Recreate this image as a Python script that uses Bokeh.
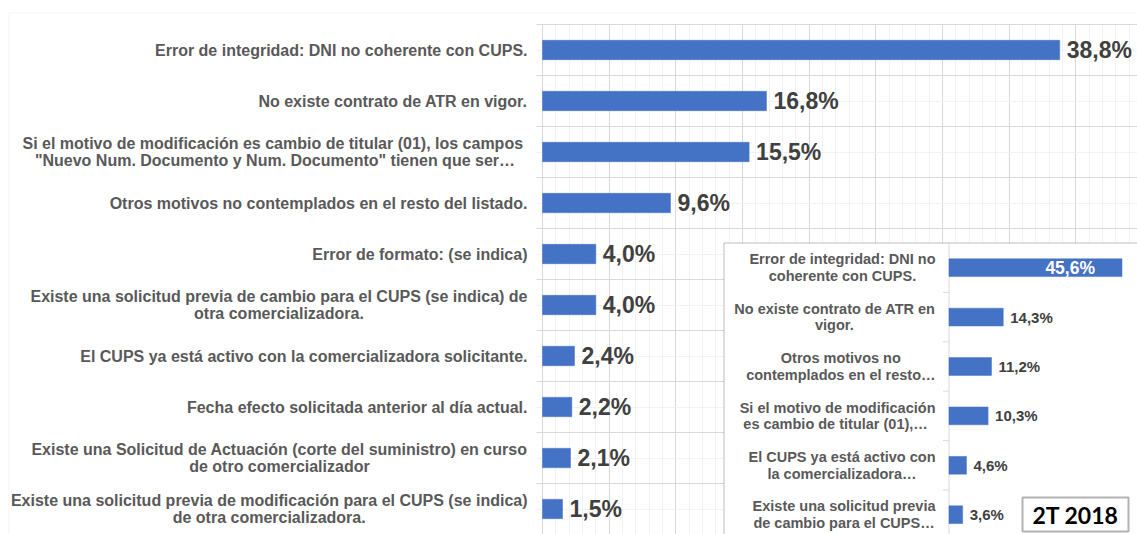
from bokeh.plotting import figure
from bokeh.models import (Range1d, ColumnDataSource, LabelSet, Label, BoxAnnotation,
                          FixedTicker, SingleIntervalTicker)
from bokeh.embed import file_html
from bokeh.resources import INLINE
from bokeh.core.properties import value
import math

# ---------------- data ----------------
categories = [
    "Error de integridad: DNI no coherente con CUPS.",
    "No existe contrato de ATR en vigor.",
    "Si el motivo de modificación es  cambio de titular (01), los campos\n\"Nuevo Num. Documento y Num. Documento\" tienen que ser…",
    "Otros motivos no contemplados en el resto del listado.",
    "Error de formato: (se indica)",
    "Existe una solicitud previa de cambio para el CUPS (se indica) de\notra comercializadora.",
    "El CUPS ya está activo con la comercializadora solicitante.",
    "Fecha efecto solicitada anterior al día actual.",
    "Existe una Solicitud de Actuación (corte del suministro) en curso\nde otro comercializador",
    "Existe una solicitud previa de modificación para el CUPS (se indica)\nde otra comercializadora.",
]
values = [38.8, 16.8, 15.5, 9.6, 4.0, 4.0, 2.4, 2.2, 2.1, 1.5]

inset_categories = [
    "Error de integridad: DNI no\ncoherente con CUPS.",
    "No existe contrato de ATR en\nvigor.",
    "Otros motivos no\ncontemplados en el resto…",
    "Si el motivo de modificación\nes  cambio de titular (01),…",
    "El CUPS ya está activo con\nla comercializadora…",
    "Existe una solicitud previa\nde cambio para el CUPS…",
]
inset_values = [45.6, 14.3, 11.2, 10.3, 4.6, 3.6]
inset_title = "2T 2018"

# ---------------- style ----------------
BLUE = "#4472C4"
CAT_COLOR = "#595959"
VAL_COLOR = "#404040"
GRID_MAJOR = "#d9d9d9"
GRID_MINOR = "#f2f2f2"
FONT = "Liberation Sans"

W, H = 1137, 534                     # frame covers the whole canvas
N = len(categories)

# main chart geometry (pixels)
M_AXIS = 542.0
M_TOP = 24.0
PX_PER_PCT = 13.33
M_BAND = 51.0

def mx(px):
    return (px - M_AXIS) / PX_PER_PCT

def my(py):
    return (py - M_TOP) / M_BAND

# inset geometry (pixels)
I_AXIS = 948.5
I_PX = 3.794
I_TOP = 242.5
I_BAND = 49.4

def ix(px):
    return (px - I_AXIS) / I_PX

def iy(py):
    return (py - I_TOP) / I_BAND

# Arial/Liberation Sans Bold advance widths (1/1000 em)
_WB = {' ': 278, '!': 333, '"': 474, '%': 889, '(': 333, ')': 333, ',': 278, '-': 333,
       '.': 278, ':': 333, '…': 1000,
       'A': 722, 'B': 722, 'C': 722, 'D': 722, 'E': 667, 'F': 611, 'G': 778, 'H': 722,
       'I': 278, 'J': 556, 'K': 722, 'L': 611, 'M': 833, 'N': 722, 'O': 778, 'P': 667,
       'Q': 778, 'R': 722, 'S': 667, 'T': 611, 'U': 722, 'V': 667, 'W': 944, 'X': 667,
       'Y': 667, 'Z': 611,
       'a': 556, 'b': 611, 'c': 556, 'd': 611, 'e': 556, 'f': 333, 'g': 611, 'h': 611,
       'i': 278, 'j': 278, 'k': 556, 'l': 278, 'm': 889, 'n': 611, 'o': 611, 'p': 611,
       'q': 611, 'r': 389, 's': 556, 't': 333, 'u': 611, 'v': 556, 'w': 778, 'x': 556,
       'y': 556, 'z': 500, 'á': 556, 'é': 556, 'í': 278, 'ó': 611, 'ú': 611}
for _d in "0123456789":
    _WB[_d] = 556

def text_w(s, size):
    return sum(_WB.get(c, 600) for c in s) / 1000.0 * size

def fmt(v):
    return f"{v:.1f}%".replace(".", ",")

def label_rows(cats, centers, size, gap, line_off):
    right = dict(x=[], y=[], xo=[], yo=[], t=[])
    center = dict(x=[], y=[], xo=[], yo=[], t=[])
    for cat, yc in zip(cats, centers):
        lines = cat.split("\n")
        widths = [text_w(l, size) for l in lines]
        maxw = max(widths)
        n = len(lines)
        for j, (l, w) in enumerate(zip(lines, widths)):
            yo = line_off * ((n - 1) / 2.0 - j)
            tgt = right if (w == maxw) else center
            tgt["x"].append(0)
            tgt["y"].append(yc)
            tgt["yo"].append(yo)
            tgt["t"].append(l)
            tgt["xo"].append(-gap if w == maxw else -gap - maxw / 2.0)
    return right, center

# ---------------- figure ----------------
p = figure(width=W, height=H, title=None,
           x_range=Range1d(mx(0), mx(W)),
           y_range=Range1d(my(H), my(0)),
           output_backend="svg", toolbar_location=None,
           min_border=0, min_border_left=0, min_border_top=0,
           min_border_right=0, min_border_bottom=0)
p.outline_line_color = None
p.background_fill_color = "white"
p.border_fill_color = "white"
p.xaxis.visible = False
p.yaxis.visible = False

xt = SingleIntervalTicker(interval=5, num_minor_ticks=5)
p.xgrid.ticker = xt
p.xgrid.bounds = (0, mx(W) + 5)
p.xgrid.cross_bounds = (0, N)
p.xgrid.grid_line_color = GRID_MAJOR
p.xgrid.minor_grid_line_color = GRID_MINOR

yt = FixedTicker(ticks=list(range(N + 1)), minor_ticks=[i + 0.5 for i in range(N)])
p.ygrid.ticker = yt
p.ygrid.bounds = (0, N)
p.ygrid.cross_bounds = (mx(M_AXIS - 6), mx(W) + 5)
p.ygrid.grid_line_color = GRID_MAJOR
p.ygrid.minor_grid_line_color = GRID_MINOR

# outer chart-area border
p.add_layout(BoxAnnotation(left=mx(8.5), top=my(12.5), right=mx(1300), bottom=my(700),
                           fill_alpha=0, line_color=GRID_MAJOR, line_width=1, level="underlay"))

centers = [i + 0.5 for i in range(N)]
src = ColumnDataSource(dict(y=centers, v=values, t=[fmt(v) for v in values]))
p.hbar(y="y", left=0, right="v", height=0.38, source=src,
       fill_color=BLUE, line_color=BLUE, line_width=0.5)

p.add_layout(LabelSet(x="v", y="y", text="t", source=src, x_offset=7,
                      text_baseline="middle", text_align="left",
                      text_font=value(FONT), text_font_style="bold",
                      text_font_size="23px", text_color=VAL_COLOR))

r_rows, c_rows = label_rows(categories, centers, 16, 15, 17.6)
for rows, al in ((r_rows, "right"), (c_rows, "center")):
    p.add_layout(LabelSet(x="x", y="y", text="t", x_offset="xo", y_offset="yo",
                          source=ColumnDataSource(rows),
                          text_baseline="middle", text_align=al,
                          text_font=value(FONT), text_font_style="bold",
                          text_font_size="16px", text_color=CAT_COLOR))

# ---------------- inset ----------------
p.extra_x_ranges = {"ix": Range1d(ix(0), ix(W))}
p.extra_y_ranges = {"iy": Range1d(iy(H), iy(0))}
IR = dict(x_range_name="ix", y_range_name="iy")

p.add_layout(BoxAnnotation(left=ix(723.5), top=iy(242.5), right=ix(1300), bottom=iy(700),
                           fill_color="white", fill_alpha=1, line_color="#262626",
                           line_width=1, level="guide", **IR))

NI = len(inset_categories)
icenters = [i + 0.5 for i in range(NI)]
p.ray(x=[0], y=[0], length=600, length_units="screen", angle=-math.pi / 2,
      line_color=GRID_MAJOR, line_width=1, level="annotation", **IR)
p.ray(x=[0] * (NI - 1), y=list(range(1, NI)), length=6, length_units="screen",
      angle=math.pi, line_color=GRID_MAJOR, line_width=1, level="annotation", **IR)

isrc = ColumnDataSource(dict(y=icenters, v=inset_values))
p.hbar(y="y", left=0, right="v", height=0.36, source=isrc,
       fill_color=BLUE, line_color=BLUE, line_width=0.5, level="annotation", **IR)

vmax = max(inset_values)
inside = dict(x=[], y=[], t=[])
outside = dict(x=[], y=[], t=[])
for v, yc in zip(inset_values, icenters):
    tgt = inside if v == vmax else outside
    tgt["x"].append(v)
    tgt["y"].append(yc)
    tgt["t"].append(fmt(v))
p.add_layout(LabelSet(x="x", y="y", text="t", source=ColumnDataSource(inside), x_offset=-27,
                      text_baseline="middle", text_align="right",
                      text_font=value(FONT), text_font_style="bold",
                      text_font_size="17.5px", text_color="white", level="overlay", **IR))
p.add_layout(LabelSet(x="x", y="y", text="t", source=ColumnDataSource(outside), x_offset=7,
                      text_baseline="middle", text_align="left",
                      text_font=value(FONT), text_font_style="bold",
                      text_font_size="15px", text_color=VAL_COLOR, level="overlay", **IR))

ir_rows, ic_rows = label_rows(inset_categories, icenters, 14.5, 13.5, 16.6)
for rows, al in ((ir_rows, "right"), (ic_rows, "center")):
    p.add_layout(LabelSet(x="x", y="y", text="t", x_offset="xo", y_offset="yo",
                          source=ColumnDataSource(rows),
                          text_baseline="middle", text_align=al,
                          text_font=value(FONT), text_font_style="bold",
                          text_font_size="14.5px", text_color=CAT_COLOR,
                          level="overlay", **IR))

# "2T 2018" box
p.add_layout(BoxAnnotation(left=ix(1022), right=ix(1128), top=iy(497), bottom=iy(531),
                           fill_color="white", fill_alpha=1, line_color="black",
                           line_width=2, level="annotation", **IR))
p.add_layout(Label(x=ix(1075), y=iy(514.5), text=inset_title, text_align="center",
                   text_baseline="middle", text_font="Lato", text_font_style="bold",
                   text_font_size="23px", text_color="black", level="overlay", **IR))

open("out.html", "w").write(file_html(p, INLINE))
